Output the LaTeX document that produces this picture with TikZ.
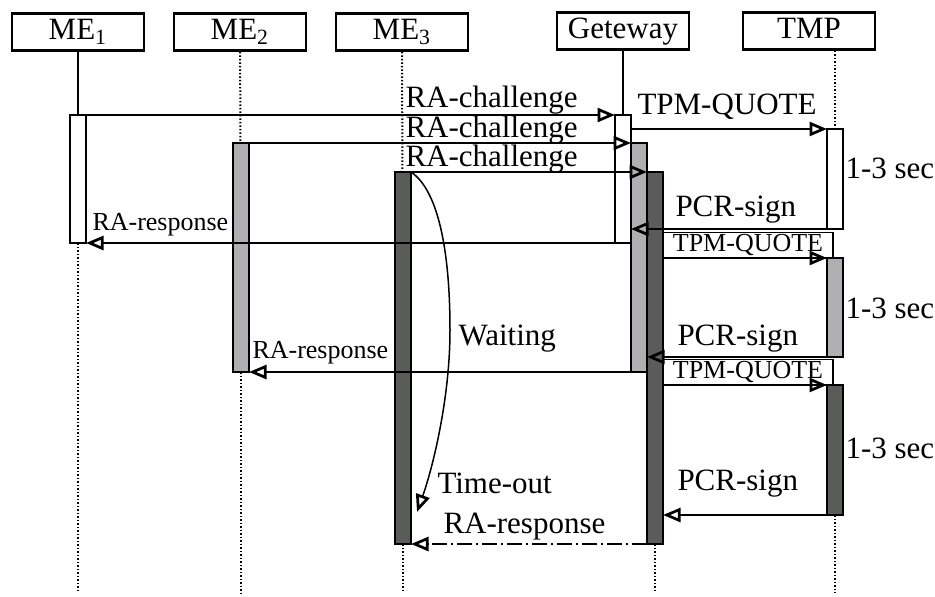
\documentclass[tikz,border=0pt]{standalone}
\usepackage{fontspec}
\setmainfont{Liberation Serif}
\usetikzlibrary{arrows.meta}
\definecolor{midgray}{RGB}{176,176,178}
\definecolor{darkbar}{RGB}{90,92,90}

\begin{document}
\begin{tikzpicture}[x=0.4pt, y=-0.4pt,
  font=\fontsize{12.4}{14}\selectfont,
  head/.style={draw, line width=1.1pt, minimum width=52.8pt,
               minimum height=14.8pt, inner sep=0pt,
               text height=8.6pt, text depth=2.4pt},
  bar/.style={draw, line width=0.8pt, fill=#1, minimum width=6.4pt,
              inner sep=0pt, outer sep=0pt, anchor=north},
  msg/.style={line width=0.8pt,
              -{Triangle[open, length=7pt, width=5.6pt, line width=1.1pt]}},
  life/.style={line width=0.8pt, dash pattern=on 0.6pt off 0.8pt},
  lbl/.style={inner sep=0pt, anchor=base west},
  smalltxt/.style={font=\fontsize{10.4}{12}\selectfont},
  qbox/.style={draw, line width=0.6pt, fill=white, smalltxt, inner sep=0pt,
               outer sep=0pt, minimum width=68pt, minimum height=10.2pt,
               anchor=south west}
]
  \useasboundingbox (0,0) rectangle (935,596);
  \coordinate (bot) at (0,593);

  % Teilnehmer
  \node[head] (me1) at (78,32)  {ME\textsubscript{1}};
  \node[head] (me2) at (240,32) {ME\textsubscript{2}};
  \node[head] (me3) at (402,32) {ME\textsubscript{3}};
  \node[head] (gw)  at (623,31) {Geteway};
  \node[head] (tmp) at (809,31) {TMP};

  % Aktivierungen
  \node[bar=white,   minimum height=51.2pt]  (me1A) at (78,115)  {};
  \node[bar=midgray, minimum height=91.6pt]  (me2A) at (241,143) {};
  \node[bar=darkbar, minimum height=148.8pt] (me3A) at (403,172) {};
  \node[bar=white,   minimum height=51.2pt]  (gwA)  at (623,115) {};
  \node[bar=midgray, minimum height=91.6pt]  (gwB)  at (639,143) {};
  \node[bar=darkbar, minimum height=148.8pt] (gwC)  at (655,172) {};
  \node[bar=white,   minimum height=40pt]    (tmpA) at (835,129) {};
  \node[bar=midgray, minimum height=39.6pt]  (tmpB) at (835,258) {};
  \node[bar=darkbar, minimum height=52pt]    (tmpC) at (835,385) {};

  % Lebenslinien
  \draw[line width=0.8pt] (me1) -- (me1A);
  \draw[life] (me1A.south) -- (me1A.south |- bot);
  \draw[life] (me2) -- (me2A);
  \draw[life] (me2A.south) -- (me2A.south |- bot);
  \draw[life] (me3) -- (me3A);
  \draw[life] (me3A.south) -- (me3A.south |- bot);
  \draw[line width=0.8pt] (gw) -- (gwA);
  \draw[life] (gwC.south) -- (gwC.south |- bot);
  \draw[life] (tmp.south -| tmpA.north) -- (tmpA.north);
  \draw[life] (tmpC.south) -- (tmpC.south |- bot);

  % Beschriftungskaesten
  \node[qbox] (q2) at (gwC.east |- tmpB.north) {TPM-QUOTE};
  \node[qbox] (q3) at (gwC.east |- tmpC.north) {TPM-QUOTE};

  % Nachrichten
  \draw[msg] (me1A.north east) -- (gwA.north west);
  \draw[msg] (me2A.north east) -- (gwB.north west);
  \draw[msg] (me3A.north east) -- (gwC.north west);
  \draw[msg] (gwA.east |- tmpA.north) -- (tmpA.north west);
  \draw[msg] (tmpA.south west) -- (tmpA.south west -| gwA.east);
  \draw[msg] (gwA.south west) -- (me1A.south east);
  \draw[msg] (q2.south west) -- (tmpB.north west);
  \draw[msg] (tmpB.south west) -- (tmpB.south west -| gwB.east);
  \draw[msg] (gwB.south west) -- (me2A.south east);
  \draw[msg] (q3.south west) -- (tmpC.north west);
  \draw[msg] (tmpC.south west) -- (tmpC.south west -| gwC.east);
  \draw[msg, dash pattern=on 6pt off 1.5pt on 1pt off 1.5pt]
    (gwC.south west) -- (me3A.south east);

  % Warten
  \coordinate (tout) at (417,512);
  \draw[msg, line width=0.6pt] (me3A.north east)
    .. controls (438,190) and (450,250) .. (450,330)
    .. controls (450,400) and (432,470) .. (tout);

  % Texte
  \node[lbl] (c1) at (405,107) {RA-challenge};
  \node[lbl] (c2) at (405,137) {RA-challenge};
  \node[lbl] (c3) at (405,166) {RA-challenge};
  \node[lbl] (q1) at (637,114) {TPM-QUOTE};
  \node[lbl] (p1) at (675,216) {PCR-sign};
  \node[lbl] (p2) at (677,345) {PCR-sign};
  \node[lbl] (p3) at (677,490) {PCR-sign};
  \node[lbl, smalltxt] (r1) at (92,230)  {RA-response};
  \node[lbl, smalltxt] (r2) at (252,358) {RA-response};
  \node[lbl] (r3) at (443,533) {RA-response};
  \node[lbl] (wt) at (458,345) {Waiting};
  \node[lbl] (to) at (437,493) {Time-out};
  \node[anchor=west, inner sep=0pt] (s1) at (845,168) {1-3 sec};
  \node[anchor=west, inner sep=0pt] (s2) at (845,308) {1-3 sec};
  \node[anchor=west, inner sep=0pt] (s3) at (845,448) {1-3 sec};
\end{tikzpicture}
\end{document}
